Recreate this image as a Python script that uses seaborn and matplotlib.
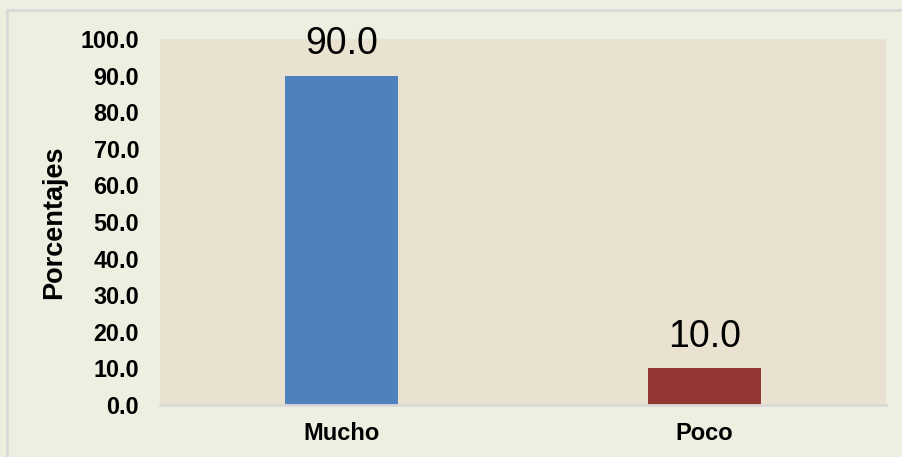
import pandas as pd
import seaborn as sns
import matplotlib.pyplot as plt
from matplotlib.lines import Line2D

# datos
categorias = ['Mucho', 'Poco']
porcentajes = [90.0, 10.0]
colores = ['#4F81BD', '#953735']
ticks_y = [0, 10, 20, 30, 40, 50, 60, 70, 80, 90, 100]

df = pd.DataFrame({'categoria': categorias, 'porcentaje': porcentajes})

sns.set_style('white')
plt.rcParams['font.family'] = ['Liberation Sans', 'DejaVu Sans']

fig = plt.figure(figsize=(9.02, 4.57), dpi=100)
fig.patch.set_facecolor('#EDF0E1')
ax = fig.add_axes([160/902, 1-405/457, 726/902, 366/457])
ax.set_facecolor('#EAE2D0')

sns.barplot(x='categoria', y='porcentaje', data=df, hue='categoria',
            palette=colores, width=0.314, legend=False, ax=ax, saturation=1,
            linewidth=0)

# etiquetas de valor
for i, v in enumerate(porcentajes):
    ax.text(i, v + 3.6, f'{v:.1f}', ha='center', va='bottom', fontsize=27, color='black')

ax.set_ylim(0, 100)
ax.set_xlim(-0.5, 1.5)
ax.set_yticks(ticks_y)
ax.set_yticklabels([f'{t:.1f}' for t in ticks_y], fontsize=16.8, fontweight='bold', color='black')
ax.set_xticks(range(len(categorias)))
ax.set_xticklabels(categorias, fontsize=17, fontweight='bold', color='black')
ax.tick_params(axis='y', length=0, pad=15)
ax.tick_params(axis='x', length=0, pad=12)
ax.set_xlabel('')
ax.set_ylabel('Porcentajes', fontsize=19.5, fontweight='bold', color='black', labelpad=10)

for s in ['top', 'right', 'left']:
    ax.spines[s].set_visible(False)
ax.spines['bottom'].set_color('#D9D9D9')
ax.spines['bottom'].set_linewidth(2)

# borde del grafico
fig.add_artist(Line2D([7/902, 1], [1-10/457, 1-10/457], color='#D9D9D9', lw=2, transform=fig.transFigure))
fig.add_artist(Line2D([7/902, 7/902], [0, 1-10/457], color='#D9D9D9', lw=2, transform=fig.transFigure))

plt.savefig('out.png', dpi=100, facecolor=fig.get_facecolor())
